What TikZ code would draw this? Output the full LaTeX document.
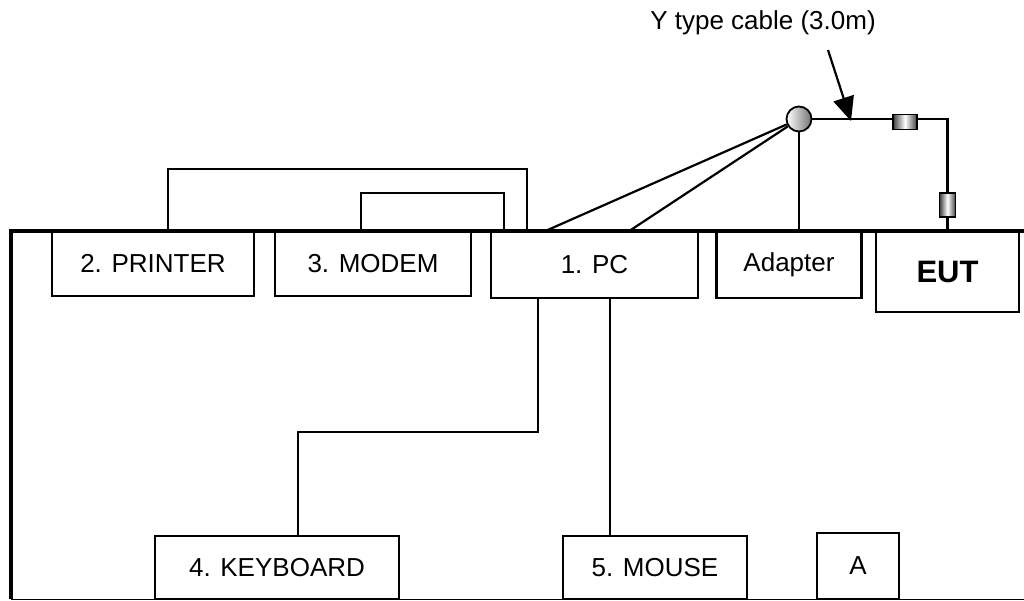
\documentclass[tikz,border=0pt]{standalone}
\usepackage{fontspec}
\setmainfont{Liberation Sans}
\usetikzlibrary{arrows.meta,calc}

\begin{document}
\begin{tikzpicture}[x=1pt,y=-1pt,
  unit box/.style={draw,line width=2.2pt,fill=white,inner sep=0pt,
    font=\fontsize{26}{30}\selectfont},
  cable/.style={line width=2.2pt},
  ferriteh/.style={draw,line width=1.8pt,inner sep=0pt,minimum width=24pt,minimum height=15pt,
    left color=black!75,right color=black!75,middle color=white},
  ferritev/.style={draw,line width=1.8pt,inner sep=0pt,minimum width=16pt,minimum height=24pt,
    left color=black!75,right color=black!75,middle color=white},
  label text/.style={font=\fontsize{26}{30}\selectfont,inner sep=0pt}]

\useasboundingbox (0,0) rectangle (1024,601);

% equipment on the table top
\node[unit box,minimum width=202pt,minimum height=65pt] (printer) at (153,263.5) {2. PRINTER};
\node[unit box,minimum width=196pt,minimum height=65pt] (modem) at (373,263.5) {3. MODEM};
\node[unit box,minimum width=207pt,minimum height=67pt] (pc) at (594.5,264.5) {1. PC};
\node[unit box,minimum width=145pt,minimum height=67pt] (adapter) at (789,264.5) {Adapter};
\node[unit box,minimum width=143pt,minimum height=81pt,
      font=\fontsize{31}{36}\selectfont\bfseries] (eut) at (947.5,271.5) {EUT};

% equipment on the floor
\node[unit box,minimum width=244pt,minimum height=63pt] (keyboard) at (277,567.5) {4. KEYBOARD};
\node[unit box,minimum width=184pt,minimum height=63pt] (mouse) at (655,567.5) {5. MOUSE};
\node[unit box,minimum width=82pt,minimum height=66pt] (a) at (858,566) {A};

% table outline
\draw[line width=4pt] (11,599) -- (11,231) -- (1024,231);
\draw[line width=1.8pt] (11,599.5) -- (1024,599.5);

% printer and modem cables to the PC
\draw[cable] ($(printer.north west)+(117,0)$) |- ($(pc.north west)+(37,-61)$)
  -- ($(pc.north west)+(37,0)$);
\draw[cable] ($(modem.north west)+(87,0)$) |- ($(pc.north west)+(14,-37)$)
  -- ($(pc.north west)+(14,0)$);

% keyboard and mouse cables
\draw[cable] ($(pc.south west)+(48,0)$) |- ($(keyboard.north west)+(144,-103)$)
  -- ($(keyboard.north west)+(144,0)$);
\draw[cable] ($(pc.south west)+(120,0)$) -- (mouse.north -| {$(pc.south west)+(120,0)$});

% Y type cable
\node[circle,draw,line width=1.8pt,minimum size=25pt,inner sep=0pt,
      left color=white,right color=black!55] (hub) at (799,119) {};
\coordinate (bend) at (eut.north |- hub.east);
\draw[cable] (hub) -- ($(pc.north west)+(58,0)$);
\draw[cable] (hub) -- ($(pc.north west)+(141,0)$);
\draw[cable] (hub.south) -- (adapter.north -| hub.south);
\draw[cable] (hub.east) -- (bend) -- (eut.north);
\node[ferriteh] (fh) at (905,122) {};
\node[ferritev] (fv) at (947.5,205) {};

% label with pointer
\node[label text] (lbl) at (763,23) {Y type cable (3.0m)};
\coordinate (tail) at (828,50);
\coordinate (tip) at (851,121);
\draw[line width=2.2pt,-{Triangle[length=24pt,width=21pt]}] (tail) -- (tip);

\end{tikzpicture}
\end{document}
